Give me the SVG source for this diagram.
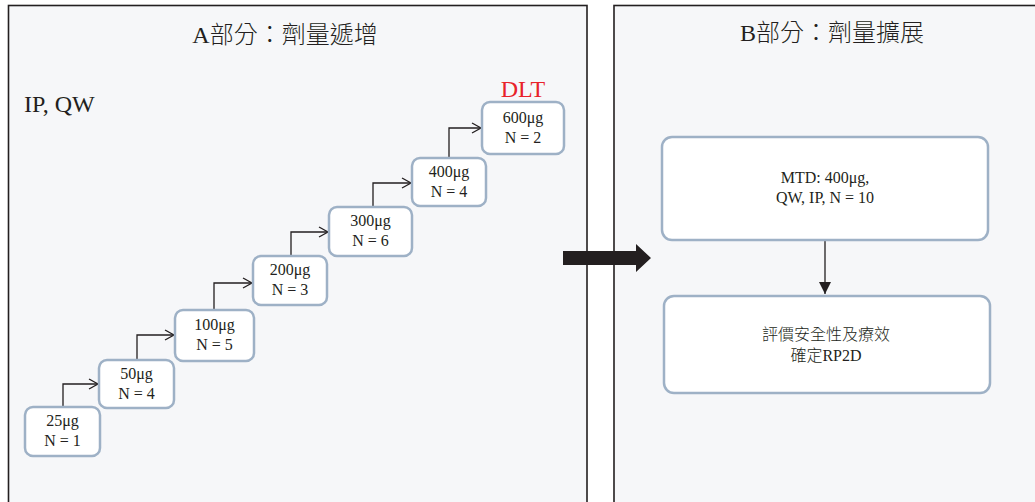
<svg xmlns="http://www.w3.org/2000/svg" width="1035" height="502" viewBox="0 0 1035 502">
<style>
.panel{fill:#f6f7f9;stroke:#231f20;stroke-width:1.6}
.box{fill:#ffffff;stroke:#9eb1c6;stroke-width:2.5}
.t{font-family:"Liberation Serif","Noto Sans CJK TC",serif;fill:#231f20}
.title{font-size:24px;text-anchor:middle;font-weight:300}
.lbl{font-size:16px;text-anchor:middle}
.light{font-weight:300}
.conn{fill:none;stroke:#231f20;stroke-width:1.3}
</style>
<defs>
<marker id="open" markerWidth="12" markerHeight="12" refX="10" refY="6" orient="auto" markerUnits="userSpaceOnUse">
<path d="M1,1 L10,6 L1,11" fill="none" stroke="#231f20" stroke-width="1.3"/>
</marker>
<marker id="solid" markerWidth="14" markerHeight="14" refX="12" refY="7" orient="auto" markerUnits="userSpaceOnUse">
<path d="M0,1 L12,7 L0,13 Z" fill="#231f20"/>
</marker>
</defs>
<rect width="1035" height="502" fill="#ffffff"/>
<g id="panelA">
<rect class="panel" x="8.5" y="5.5" width="578.5" height="510"/>
<text class="t title" x="285" y="43">A部分：劑量遞增</text>
<text class="t" x="24" y="112" font-size="24">IP, QW</text>
<text class="t" x="523" y="97" font-size="24" text-anchor="middle" style="fill:#e8222a">DLT</text>
</g>
<g id="panelB">
<rect class="panel" x="614" y="5.5" width="440" height="510"/>
<text class="t title" x="832" y="41">B部分：劑量擴展</text>
</g>
<g id="bigArrow">
<path d="M563,251 L636,251 L636,244 L651,258 L636,272 L636,265 L563,265 Z" fill="#231f20"/>
</g>
<g id="connectors">
<path class="conn" d="M63,407 V384 H98" marker-end="url(#open)"/>
<path class="conn" d="M137,360 V335 H174" marker-end="url(#open)"/>
<path class="conn" d="M214,310 V283 H252" marker-end="url(#open)"/>
<path class="conn" d="M291,256 V232 H328" marker-end="url(#open)"/>
<path class="conn" d="M373,207 V183 H411" marker-end="url(#open)"/>
<path class="conn" d="M449,158 V128 H481" marker-end="url(#open)"/>
<path class="conn" d="M825,240 V294" marker-end="url(#solid)"/>
</g>
<g id="n25">
<rect class="box" x="25" y="407" width="75" height="49" rx="8"/>
<text class="t lbl" x="62.5" y="426">25μg</text>
<text class="t lbl" x="62.5" y="446">N = 1</text>
</g>
<g id="n50">
<rect class="box" x="99" y="360" width="75" height="48" rx="8"/>
<text class="t lbl" x="136.5" y="379">50μg</text>
<text class="t lbl" x="136.5" y="399">N = 4</text>
</g>
<g id="n100">
<rect class="box" x="175" y="310" width="79" height="51" rx="8"/>
<text class="t lbl" x="214.5" y="330">100μg</text>
<text class="t lbl" x="214.5" y="350">N = 5</text>
</g>
<g id="n200">
<rect class="box" x="253" y="256" width="74" height="49" rx="8"/>
<text class="t lbl" x="290" y="275">200μg</text>
<text class="t lbl" x="290" y="295">N = 3</text>
</g>
<g id="n300">
<rect class="box" x="329" y="207" width="83" height="49" rx="8"/>
<text class="t lbl" x="370.5" y="226">300μg</text>
<text class="t lbl" x="370.5" y="246">N = 6</text>
</g>
<g id="n400">
<rect class="box" x="412" y="158" width="74" height="48" rx="8"/>
<text class="t lbl" x="449" y="177">400μg</text>
<text class="t lbl" x="449" y="197">N = 4</text>
</g>
<g id="n600">
<rect class="box" x="482" y="102" width="82" height="52" rx="8"/>
<text class="t lbl" x="523" y="123">600μg</text>
<text class="t lbl" x="523" y="143">N = 2</text>
</g>
<g id="mtd">
<rect class="box" x="662" y="137" width="326" height="103" rx="10"/>
<text class="t lbl" x="825" y="183">MTD: 400μg,</text>
<text class="t lbl" x="825" y="203">QW, IP, N = 10</text>
</g>
<g id="eval">
<rect class="box" x="664" y="296" width="326" height="97" rx="10"/>
<text class="t lbl light" x="826" y="340">評價安全性及療效</text>
<text class="t lbl light" x="826" y="361">確定RP2D</text>
</g>
</svg>
